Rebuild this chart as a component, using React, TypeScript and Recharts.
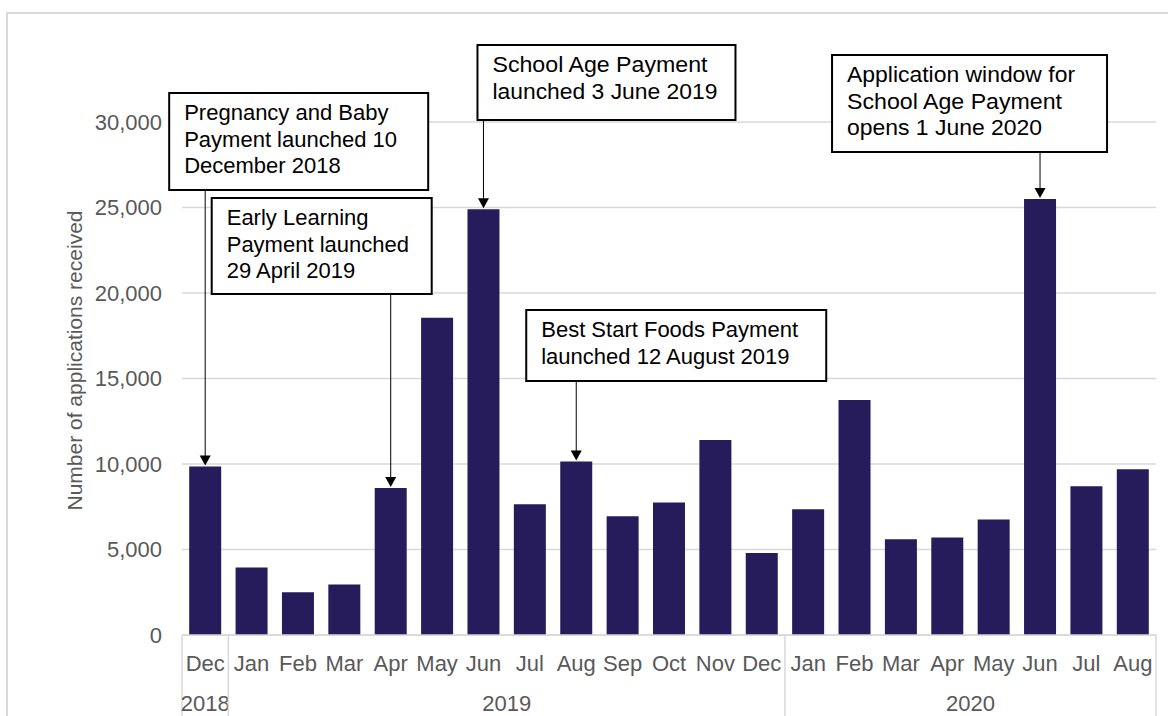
import { BarChart, Bar, XAxis, YAxis, CartesianGrid, LabelList } from 'recharts';

const months = [
  'Dec', 'Jan', 'Feb', 'Mar', 'Apr', 'May', 'Jun', 'Jul', 'Aug', 'Sep', 'Oct', 'Nov', 'Dec',
  'Jan', 'Feb', 'Mar', 'Apr', 'May', 'Jun', 'Jul', 'Aug',
];

const applications = [
  9850, 3950, 2500, 2950, 8600, 18550, 24900, 7650, 10150, 6950, 7750, 11400, 4800,
  7350, 13750, 5600, 5700, 6750, 25500, 8700, 9700,
];

const yTicks = [0, 5000, 10000, 15000, 20000, 25000, 30000];

const yearGroups = [
  { label: '2018', start: 0, end: 0 },
  { label: '2019', start: 1, end: 12 },
  { label: '2020', start: 13, end: 20 },
];

// callout boxes: which bar they point at, and the text lines
const notes = [
  {
    index: 0,
    lines: ['Pregnancy and Baby', 'Payment launched 10', 'December 2018'],
    dx: -36, top: 93, w: 259, h: 97, narrow: null,
  },
  {
    index: 4,
    lines: ['Early Learning', 'Payment launched', '29 April 2019'],
    dx: -179, top: 198, w: 220, h: 96, narrow: null,
  },
  {
    index: 6,
    lines: ['School Age Payment', 'launched 3 June 2019'],
    dx: -6, top: 45, w: 258, h: 75, narrow: [215, 225],
  },
  {
    index: 8,
    lines: ['Best Start Foods Payment', 'launched 12 August 2019'],
    dx: -50, top: 310, w: 300, h: 71, narrow: null,
  },
  {
    index: 18,
    lines: ['Application window for', 'School Age Payment', 'opens 1 June 2020'],
    dx: -208, top: 55, w: 275, h: 97, narrow: [228, 215, 195],
  },
];

const data = months.map((month, i) => ({ month, applications: applications[i] }));

const FONT = '"Liberation Sans", Arial, sans-serif';
const GREY = '#595959';
const LINE = '#d9d9d9';
const BAR = '#261c5b';

const CHART_W = 1168;
const CHART_H = 716;
const Y_W = 182;
const RIGHT = 12;
const FALLBACK_BAND = (CHART_W - Y_W - RIGHT) / months.length;

function MonthTick(props: any) {
  const { x, y, payload } = props;
  const index = payload.index;
  const band = payload.offset ? payload.offset * 2 : FALLBACK_BAND;
  const group = yearGroups.find((g) => g.start === index);
  const last = index === months.length - 1;

  return (
    <g>
      <text x={x} y={y} dy="0.71em" textAnchor="middle" fill={GREY} fontSize={22} fontFamily={FONT}>
        {payload.value}
      </text>
      {group && (
        <>
          <line x1={x - band / 2} x2={x - band / 2} y1={y - 20} y2={y + 80} stroke={LINE} strokeWidth={1.5} />
          <text
            x={x + ((group.end - group.start) / 2) * band}
            y={y + 40}
            dy="0.71em"
            textAnchor="middle"
            fill={GREY}
            fontSize={22}
            fontFamily={FONT}
          >
            {group.label}
          </text>
        </>
      )}
      {last && <line x1={x + band / 2} x2={x + band / 2} y1={y - 20} y2={y + 80} stroke={LINE} strokeWidth={1.5} />}
    </g>
  );
}

function Callout(props: any) {
  const note = notes.find((n) =>
    props.index !== undefined ? n.index === props.index : applications[n.index] === props.value
  );
  if (!note) return null;
  const vb = props.viewBox ?? props;
  const cx = vb.x + vb.width / 2;
  const barTop = vb.y;
  const left = cx + note.dx;
  const bottom = note.top + note.h;

  return (
    <g>
      <line x1={cx} x2={cx} y1={bottom + 1} y2={barTop - 10} stroke="#000" strokeWidth={1} />
      <polygon points={`${cx - 5.5},${barTop - 11} ${cx + 5.5},${barTop - 11} ${cx},${barTop - 1}`} fill="#000" />
      <rect x={left} y={note.top} width={note.w} height={note.h} fill="#fff" stroke="#000" strokeWidth={2} />
      {note.lines.map((line, i) => (
        <text
          key={i}
          x={left + 15}
          y={note.top + 27 + i * 26.5}
          fill="#000"
          fontSize={22}
          fontFamily={FONT}
          {...(note.narrow ? { textLength: note.narrow[i], lengthAdjust: 'spacingAndGlyphs' } : {})}
        >
          {line}
        </text>
      ))}
    </g>
  );
}

function YLabel(props: any) {
  const vb = props.viewBox;
  const cx = vb.x + 74;
  const cy = vb.y + vb.height / 2 - 18;
  return (
    <text
      x={cx}
      y={cy}
      transform={`rotate(-90, ${cx}, ${cy})`}
      textAnchor="middle"
      dominantBaseline="central"
      fill={GREY}
      fontSize={21}
      fontFamily={FONT}
    >
      Number of applications received
    </text>
  );
}

export default function App() {
  return (
    <div style={{ position: 'fixed', left: 0, top: 0, width: CHART_W, height: CHART_H, overflow: 'hidden', background: '#fff' }}>
      <div
        style={{
          position: 'absolute',
          left: 6,
          top: 12,
          width: 1200,
          height: 800,
          border: `2px solid ${LINE}`,
        }}
      />
      <div style={{ position: 'absolute', left: 0, top: 0 }}>
        <BarChart
          width={CHART_W}
          height={CHART_H}
          data={data}
          margin={{ top: 122, right: RIGHT, bottom: 0, left: 0 }}
          barCategoryGap="15.5%"
        >
          <CartesianGrid vertical={false} stroke={LINE} strokeWidth={1.5} />
          <XAxis
            dataKey="month"
            height={81}
            tickLine={false}
            tickSize={0}
            tickMargin={20}
            axisLine={{ stroke: LINE, strokeWidth: 1.5 }}
            interval={0}
            tick={<MonthTick />}
          />
          <YAxis
            width={Y_W}
            domain={[0, 30000]}
            ticks={yTicks}
            tickLine={false}
            tickSize={0}
            tickMargin={20}
            axisLine={false}
            tick={{ fill: GREY, fontSize: 22, fontFamily: FONT }}
            tickFormatter={(v: number) => v.toLocaleString('en-US')}
            label={<YLabel />}
          />
          <Bar dataKey="applications" fill={BAR} isAnimationActive={false}>
            <LabelList dataKey="applications" content={<Callout />} />
          </Bar>
        </BarChart>
      </div>
    </div>
  );
}
